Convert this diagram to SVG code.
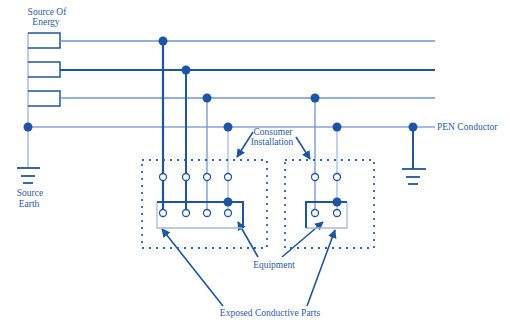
<svg xmlns="http://www.w3.org/2000/svg" width="510" height="324" viewBox="0 0 510 324">
<style>
.t{font-family:"Liberation Serif","Times New Roman",serif;font-size:9.5px;fill:#2b5aa6}
.dk{stroke:#1f54a3;fill:none}
.md{stroke:#6f95d0;fill:none}
.lt{stroke:#a4bbe4;fill:none}
.dot{fill:#1f54a3}
.oc{fill:#fff;stroke:#1f54a3;stroke-width:1.3}
.dash{stroke:#2f64b0;stroke-width:1.8;fill:none;stroke-dasharray:2 5}
.arr{stroke:#1f54a3;stroke-width:1.6;fill:none;marker-end:url(#ah)}
</style>
<defs>
<marker id="ah" viewBox="0 0 10 10" refX="9" refY="5" markerWidth="5.5" markerHeight="5.5" orient="auto" markerUnits="strokeWidth">
<path d="M0,0 L10,5 L0,10 z" fill="#1f54a3"/>
</marker>
</defs>
<rect width="510" height="324" fill="#fff"/>
<g id="source">
<line x1="28" y1="33" x2="28" y2="168" class="lt" stroke-width="1.5"/>
<path d="M28,33 H60 V48 H28" class="dk" stroke-width="1.5"/>
<path d="M28,62 H60 V77 H28" class="dk" stroke-width="1.5"/>
<path d="M28,91 H60 V106 H28" class="dk" stroke-width="1.5"/>
<text class="t" x="47" y="15" text-anchor="middle">Source Of</text>
<text class="t" x="46" y="25" text-anchor="middle">Energy</text>
</g>
<g id="source-earth">
<line x1="17" y1="168" x2="40" y2="168" class="dk" stroke-width="1.8"/>
<line x1="21" y1="176" x2="35" y2="176" class="dk" stroke-width="1.8"/>
<line x1="23" y1="183" x2="33" y2="183" class="dk" stroke-width="1.8"/>
<text class="t" x="30" y="196" text-anchor="middle">Source</text>
<text class="t" x="29" y="207" text-anchor="middle">Earth</text>
</g>
<g id="connectors">
<line x1="60" y1="41" x2="435" y2="41" class="md" stroke-width="1.5"/>
<line x1="60" y1="70" x2="435" y2="70" class="dk" stroke-width="2"/>
<line x1="60" y1="98" x2="435" y2="98" class="md" stroke-width="1.5"/>
<line x1="28" y1="127" x2="435" y2="127" class="lt" stroke-width="2"/>
<line x1="163" y1="41" x2="163" y2="210" class="dk" stroke-width="2.2"/>
<line x1="186" y1="70" x2="186" y2="210" class="dk" stroke-width="2"/>
<line x1="207" y1="98" x2="207" y2="210" class="md" stroke-width="1.3"/>
<line x1="228" y1="127" x2="228" y2="210" class="lt" stroke-width="1.3"/>
<line x1="315" y1="98" x2="315" y2="210" class="md" stroke-width="1.3"/>
<line x1="337" y1="127" x2="337" y2="210" class="lt" stroke-width="1.3"/>
<line x1="413" y1="127" x2="413" y2="169" class="dk" stroke-width="2"/>
<line x1="402" y1="169" x2="426" y2="169" class="dk" stroke-width="1.8"/>
<line x1="406" y1="177" x2="420" y2="177" class="dk" stroke-width="1.8"/>
<line x1="408" y1="184" x2="418" y2="184" class="dk" stroke-width="1.8"/>
<circle cx="163" cy="41" r="4.5" class="dot"/>
<circle cx="186" cy="70" r="4.5" class="dot"/>
<circle cx="207" cy="98" r="4.5" class="dot"/>
<circle cx="228" cy="127" r="4.5" class="dot"/>
<circle cx="28" cy="127" r="4.5" class="dot"/>
<circle cx="315" cy="98" r="4.5" class="dot"/>
<circle cx="337" cy="127" r="4.5" class="dot"/>
<circle cx="413" cy="127" r="4.5" class="dot"/>
<line x1="253" y1="132" x2="237" y2="157" class="arr"/>
<line x1="296" y1="137" x2="310" y2="159" class="arr"/>
<line x1="258" y1="257" x2="238" y2="222" class="arr"/>
<line x1="282" y1="257" x2="323" y2="222" class="arr"/>
<line x1="223" y1="306" x2="162" y2="229" class="arr"/>
<line x1="307" y1="306" x2="335" y2="230" class="arr"/>
</g>
<g id="pen-label">
<text class="t" x="437" y="130">PEN Conductor</text>
</g>
<g id="consumer-installation">
<rect x="142" y="160" width="125" height="88" class="dash"/>
<rect x="285" y="160" width="89" height="88" class="dash"/>
<text class="t" x="273" y="135" text-anchor="middle">Consumer</text>
<text class="t" x="272" y="145" text-anchor="middle">Installation</text>
</g>
<g id="equipment-1">
<path d="M157,202 V228 H243" class="lt" stroke-width="1.3"/>
<path d="M157,202 H243 V228" class="dk" stroke-width="2"/>
<circle cx="228" cy="202" r="4.5" class="dot"/>
<circle cx="163" cy="177" r="3.5" class="oc"/>
<circle cx="186" cy="177" r="3.5" class="oc"/>
<circle cx="207" cy="177" r="3.5" class="oc"/>
<circle cx="228" cy="177" r="3.5" class="oc"/>
<circle cx="163" cy="213" r="3.5" class="oc"/>
<circle cx="186" cy="213" r="3.5" class="oc"/>
<circle cx="207" cy="213" r="3.5" class="oc"/>
<circle cx="228" cy="213" r="3.5" class="oc"/>
</g>
<g id="equipment-2">
<path d="M347,202 V228 H306" class="lt" stroke-width="1.3"/>
<path d="M306,228 V202 H347" class="dk" stroke-width="2"/>
<circle cx="337" cy="202" r="4.5" class="dot"/>
<circle cx="315" cy="177" r="3.5" class="oc"/>
<circle cx="337" cy="177" r="3.5" class="oc"/>
<circle cx="315" cy="213" r="3.5" class="oc"/>
<circle cx="337" cy="213" r="3.5" class="oc"/>
</g>
<g id="labels">
<text class="t" x="274" y="268" text-anchor="middle">Equipment</text>
<text class="t" x="270" y="316" text-anchor="middle">Exposed Conductive Parts</text>
</g>
</svg>
